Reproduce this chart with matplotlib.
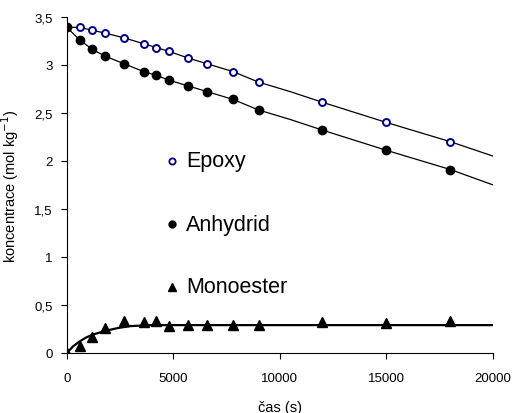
import matplotlib
matplotlib.use("Agg")
import matplotlib.pyplot as plt
from matplotlib.ticker import FuncFormatter
import numpy as np

plt.rcParams['font.family'] = ['Liberation Sans', 'DejaVu Sans']

# measured points
t = [0, 600, 1200, 1800, 2700, 3600, 4200, 4800, 5700, 6600, 7800, 9000,
     12000, 15000, 18000]
epoxy = [3.39, 3.39, 3.36, 3.33, 3.28, 3.22, 3.18, 3.14, 3.07, 3.01, 2.93,
         2.82, 2.61, 2.40, 2.20]
anhydrid = [3.39, 3.26, 3.16, 3.09, 3.01, 2.93, 2.89, 2.84, 2.78, 2.72, 2.64,
            2.53, 2.32, 2.11, 1.91]
monoester = [0.0, 0.07, 0.17, 0.26, 0.33, 0.32, 0.33, 0.28, 0.29, 0.29, 0.29,
             0.29, 0.32, 0.31, 0.33]

# model curves
t_fit = [0, 600, 1200, 1800, 2700, 3600, 4200, 4800, 5700, 6600, 7800, 9000,
         10500, 12000, 15000, 18000, 20000]
epoxy_fit = [3.39, 3.39, 3.36, 3.33, 3.28, 3.22, 3.18, 3.14, 3.07, 3.01,
             2.93, 2.82, 2.72, 2.61, 2.40, 2.20, 2.05]
anhydrid_fit = [3.39, 3.26, 3.16, 3.09, 3.01, 2.93, 2.89, 2.84, 2.78, 2.72,
                2.64, 2.53, 2.43, 2.32, 2.11, 1.91, 1.75]
t_mono_fit = [0, 300, 600, 900, 1200, 1800, 2400, 3000, 4000, 5000, 20000]
mono_fit = [0.0, 0.07, 0.12, 0.16, 0.19, 0.23, 0.26, 0.28, 0.29, 0.29, 0.29]

fig = plt.figure(figsize=(5.14, 4.14), dpi=100)
ax = fig.add_axes([0.130, 0.145, 0.829, 0.812])

ax.plot(t_fit, epoxy_fit, color='black', lw=0.9)
ax.plot(t_fit, anhydrid_fit, color='black', lw=0.9)
ax.plot(t_mono_fit, mono_fit, color='black', lw=1.6)

ax.plot(t, epoxy, 'o', ms=5, mfc='white', mec='#000080', mew=1.4)
ax.plot(t, anhydrid, 'o', ms=6, color='black')
ax.plot(t, monoester, '^', ms=7, color='black')

# in-plot labels
ax.plot([4930], [2.0], 'o', ms=4.5, mfc='white', mec='#000080', mew=1.3)
ax.text(5600, 2.0, 'Epoxy', fontsize=15.5, va='center')
ax.plot([4930], [1.34], 'o', ms=5, color='black')
ax.text(5600, 1.34, 'Anhydrid', fontsize=15.5, va='center')
ax.plot([4930], [0.69], '^', ms=6, color='black')
ax.text(5600, 0.69, 'Monoester', fontsize=15.5, va='center')

ax.set_xlim(0, 20000)
ax.set_ylim(0, 3.5)
ax.set_xticks([0, 5000, 10000, 15000, 20000])
ax.set_yticks(np.arange(0, 3.51, 0.5))
ax.yaxis.set_major_formatter(
    FuncFormatter(lambda v, p: ('%g' % v).replace('.', ',')))
ax.spines['top'].set_visible(False)
ax.spines['right'].set_visible(False)
ax.tick_params(direction='out', length=4, width=0.8, labelsize=9.5)
ax.tick_params(axis='x', pad=10)
ax.tick_params(axis='y', pad=6)
ax.set_xlabel('čas (s)', fontsize=10.5, labelpad=11)
ax.set_ylabel('koncentrace (mol kg$^{-1}$)', fontsize=10.5, labelpad=10)

fig.savefig('out.png', dpi=100)
